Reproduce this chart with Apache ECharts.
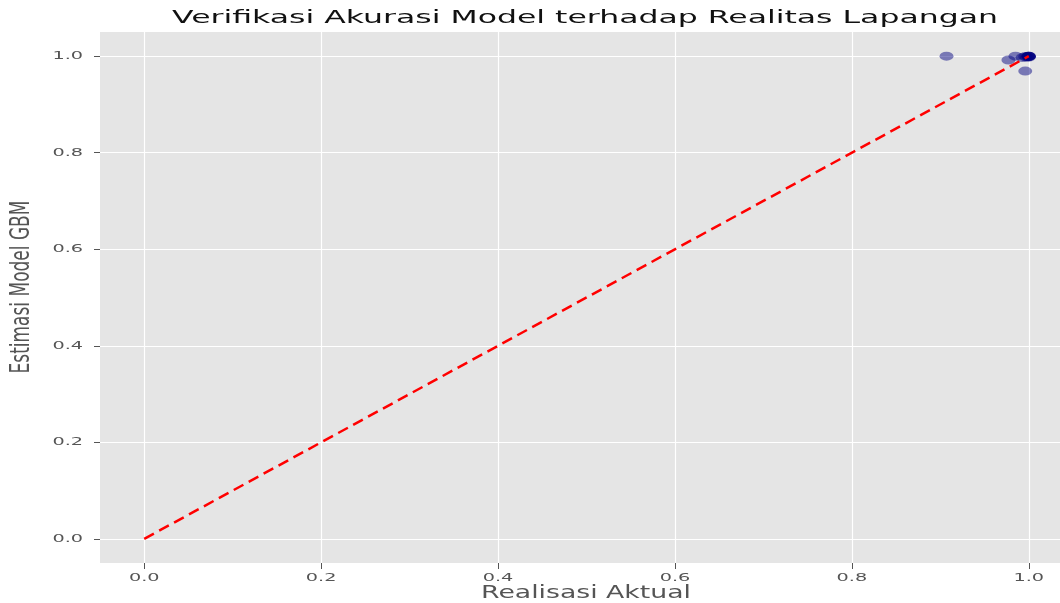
<!DOCTYPE html>
<html>
<head>
<meta charset="utf-8">
<script src="https://cdn.jsdelivr.net/npm/echarts@6/dist/echarts.min.js"></script>
<style>
  html, body { margin: 0; padding: 0; background: #fff; }
  #main { width: 1060px; height: 603px; }
</style>
</head>
<body>
<div id="main"></div>
<script>
const actual    = [0.907, 0.977, 0.985, 0.996, 0.993, 0.996, 0.998, 1.0, 1.0, 1.0, 1.0, 1.0];
const predicted = [1.0,   0.992, 1.0,   0.969, 0.997, 0.999, 0.998, 1.0, 1.0, 0.998, 0.999, 1.0];
const tickValues = [0, 0.2, 0.4, 0.6, 0.8, 1.0];
const diagonal = [[0, 0], [1, 1]];

const titleText = "Verifikasi Akurasi Model terhadap Realitas Lapangan";
const xName = "Realisasi Aktual";
const yName = "Estimasi Model GBM";

// the reference picture is stretched sideways, so texts get a scaleX
const STRETCH = 1.75;

const chart = echarts.init(document.getElementById("main"));

const points = actual.map((x, i) => [x, predicted[i]]);

function axisCommon() {
  return {
    type: "value",
    min: -0.05,
    max: 1.05,
    axisLine: { show: false, onZero: false },
    axisTick: {
      show: true,
      customValues: tickValues,
      length: 6,
      lineStyle: { color: "#555", width: 1 },
    },
    axisLabel: { show: false, customValues: tickValues },
    splitLine: { show: true, lineStyle: { color: "#fff", width: 1.2 } },
  };
}

let option = {
  animation: false,
  grid: {
    left: 100,
    top: 32,
    width: 973,
    height: 531,
    show: true,
    backgroundColor: "#e5e5e5",
    borderWidth: 0,
    outerBoundsMode: "none",
    containLabel: false,
  },
  xAxis: axisCommon(),
  yAxis: axisCommon(),
  series: [
    {
      type: "scatter",
      data: points,
      symbolSize: [14, 9],
      itemStyle: { color: "rgba(0,0,128,0.6)" },
      z: 2,
    },
    {
      type: "line",
      data: diagonal,
      showSymbol: false,
      symbol: "none",
      lineStyle: { color: "#ff0000", width: 2.5, type: [11, 6] },
      z: 3,
    },
  ],
};

chart.setOption(option);

// texts, placed with the chart's own scales
function textEl(text, x, y, opts) {
  return {
    type: "text",
    x: x,
    y: y,
    scaleX: opts.scaleX || 1,
    scaleY: opts.scaleY || 1,
    rotation: opts.rotation || 0,
    silent: true,
    style: {
      text: text,
      x: 0,
      y: 0,
      fill: opts.color || "#555",
      font: opts.fontSize + "px 'DejaVu Sans'",
      align: opts.align || "center",
      verticalAlign: "middle",
    },
  };
}

const graphics = [];
const gridRect = chart.getModel().getComponent("grid").coordinateSystem.getRect();
const plotBottom = gridRect.y + gridRect.height;
const plotLeft = gridRect.x;
const plotCenterX = gridRect.x + 486;

tickValues.forEach((v) => {
  const px = chart.convertToPixel({ xAxisIndex: 0 }, v);
  graphics.push(textEl(v.toFixed(1), px, plotBottom + 15, { fontSize: 11, scaleX: STRETCH }));
  const py = chart.convertToPixel({ yAxisIndex: 0 }, v);
  graphics.push(textEl(v.toFixed(1), plotLeft - 17, py, { fontSize: 11, scaleX: STRETCH, align: "right" }));
});

graphics.push(textEl(titleText, 585, 18, { fontSize: 18, scaleX: STRETCH, color: "#111" }));
graphics.push(textEl(xName, plotCenterX, plotBottom + 31, { fontSize: 17, scaleX: 1.57 }));
graphics.push(textEl(yName, 22, 287, { fontSize: 17, scaleY: 1.55, rotation: Math.PI / 2 }));

chart.setOption({ graphic: graphics });
</script>
</body>
</html>
